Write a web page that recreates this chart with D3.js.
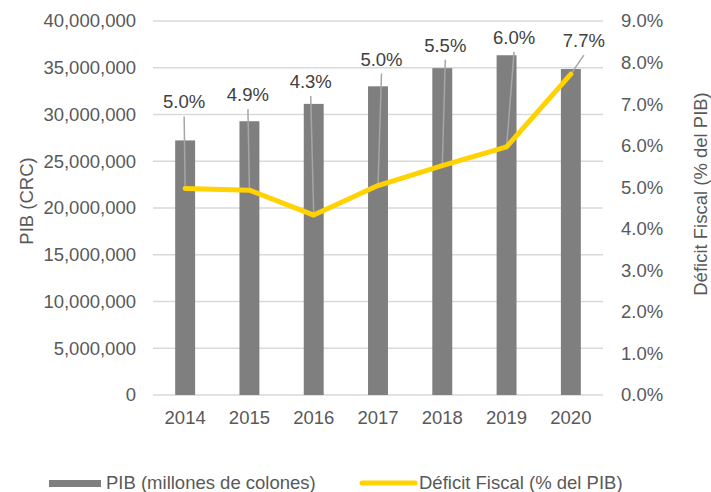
<!DOCTYPE html>
<html>
<head>
<meta charset="utf-8">
<script src="https://cdn.jsdelivr.net/npm/d3@7"></script>
<style>
  body { margin: 0; background: #fff; }
  svg text { font-family: "Liberation Sans", Arial, sans-serif; }
</style>
</head>
<body>
<div class="chart"></div>
<script>
var years = ['2014', '2015', '2016', '2017', '2018', '2019', '2020'];
var pib = [27227000, 29280000, 31136000, 33014000, 34957000, 36338000, 34863000];
var deficit = [4.97, 4.93, 4.33, 5.04, 5.52, 5.97, 7.72];
var pibTicks = [0, 5000000, 10000000, 15000000, 20000000, 25000000, 30000000, 35000000, 40000000];
var deficitTicks = [0, 1, 2, 3, 4, 5, 6, 7, 8, 9];

// manual label placement (px offset from each point), like the original
var labelShift = [[-1, -80], [-1.5, -89], [-3, -127], [3.5, -120], [3, -114], [7.5, -103], [13, -27]];

var margin = { top: 21, right: 108, bottom: 97, left: 153 };
var width = 711 - margin.left - margin.right;
var height = 492 - margin.top - margin.bottom;
var fontSize = 18.5;

var svg = d3.select('.chart')
  .append('svg')
    .attr('width', 711)
    .attr('height', 492);

var g = svg.append('g')
    .attr('transform', 'translate(' + margin.left + ', ' + margin.top + ')');

var xScale = d3.scaleBand()
  .domain(years)
  .range([0, width])
  .paddingInner(0.69)
  .paddingOuter(0.345);

var yScale = d3.scaleLinear()
  .domain([0, 40000000])
  .range([height, 0]);

var y2Scale = d3.scaleLinear()
  .domain([0, 9])
  .range([height, 0]);

// gridlines
g.append('g')
  .selectAll('line')
  .data(pibTicks)
  .enter()
  .append('line')
    .attr('x1', 0)
    .attr('x2', width)
    .attr('y1', d => yScale(d))
    .attr('y2', d => yScale(d))
    .attr('stroke', '#d9d9d9')
    .attr('stroke-width', 1.3);

// left axis
var yAxis = d3.axisLeft(yScale)
  .tickValues(pibTicks)
  .tickSize(0)
  .tickPadding(17)
  .tickFormat(d3.format(','));
g.append('g')
  .call(yAxis)
  .call(a => a.select('.domain').remove())
  .selectAll('text')
    .style('font-size', fontSize + 'px')
    .attr('fill', '#595959');

// right axis
var y2Axis = d3.axisRight(y2Scale)
  .tickValues(deficitTicks)
  .tickSize(0)
  .tickPadding(18)
  .tickFormat(d => d.toFixed(1) + '%');
g.append('g')
  .attr('transform', `translate(${width}, 0)`)
  .call(y2Axis)
  .call(a => a.select('.domain').remove())
  .selectAll('text')
    .style('font-size', fontSize + 'px')
    .attr('fill', '#595959');

// bottom axis
var xAxis = d3.axisBottom(xScale)
  .tickSize(0)
  .tickPadding(16);
g.append('g')
  .attr('transform', `translate(0, ${height})`)
  .call(xAxis)
  .call(a => a.select('.domain').remove())
  .selectAll('text')
    .style('font-size', fontSize + 'px')
    .attr('fill', '#595959');

// bars
g.selectAll('.bar')
  .data(pib)
  .enter()
  .append('rect')
    .attr('class', 'bar')
    .attr('x', (d, i) => xScale(years[i]))
    .attr('width', xScale.bandwidth())
    .attr('y', d => yScale(d))
    .attr('height', d => height - yScale(d))
    .attr('fill', '#7f7f7f');

var cx = i => xScale(years[i]) + xScale.bandwidth() / 2;

// leader lines
g.selectAll('.leader')
  .data(deficit)
  .enter()
  .append('line')
    .attr('class', 'leader')
    .attr('x1', (d, i) => cx(i))
    .attr('y1', d => y2Scale(d))
    .attr('x2', (d, i) => cx(i) + labelShift[i][0])
    .attr('y2', (d, i) => y2Scale(d) + labelShift[i][1] + 8)
    .attr('stroke', '#a6a6a6')
    .attr('stroke-width', 1.5);

// deficit line
var line = d3.line()
  .x((d, i) => cx(i))
  .y(d => y2Scale(d));

g.append('path')
  .datum(deficit)
  .attr('d', line)
  .attr('fill', 'none')
  .attr('stroke', '#ffd200')
  .attr('stroke-width', 5)
  .attr('stroke-linejoin', 'round')
  .attr('stroke-linecap', 'round');

// data labels
g.selectAll('.dlabel')
  .data(deficit)
  .enter()
  .append('text')
    .attr('class', 'dlabel')
    .attr('x', (d, i) => cx(i) + labelShift[i][0])
    .attr('y', (d, i) => y2Scale(d) + labelShift[i][1])
    .attr('text-anchor', 'middle')
    .style('font-size', fontSize + 'px')
    .attr('fill', '#404040')
    .text(d => d.toFixed(1) + '%');

// axis titles
svg.append('text')
  .attr('transform', 'translate(33, 201) rotate(-90)')
  .attr('text-anchor', 'middle')
  .style('font-size', fontSize + 'px')
  .attr('fill', '#595959')
  .text('PIB (CRC)');

svg.append('text')
  .attr('transform', 'translate(707, 194) rotate(-90)')
  .attr('text-anchor', 'middle')
  .style('font-size', fontSize + 'px')
  .attr('fill', '#595959')
  .text('Déficit Fiscal (% del PIB)');

// legend
var legend = svg.append('g');
legend.append('rect')
  .attr('x', 49)
  .attr('y', 480)
  .attr('width', 52)
  .attr('height', 7)
  .attr('fill', '#7f7f7f');
legend.append('text')
  .attr('x', 106)
  .attr('y', 489)
  .style('font-size', fontSize + 'px')
  .attr('fill', '#595959')
  .text('PIB (millones de colones)');
legend.append('line')
  .attr('x1', 362)
  .attr('x2', 415)
  .attr('y1', 483)
  .attr('y2', 483)
  .attr('stroke', '#ffd200')
  .attr('stroke-width', 5)
  .attr('stroke-linecap', 'round');
legend.append('text')
  .attr('x', 419)
  .attr('y', 489)
  .style('font-size', fontSize + 'px')
  .attr('fill', '#595959')
  .text('Déficit Fiscal (% del PIB)');
</script>
</body>
</html>
